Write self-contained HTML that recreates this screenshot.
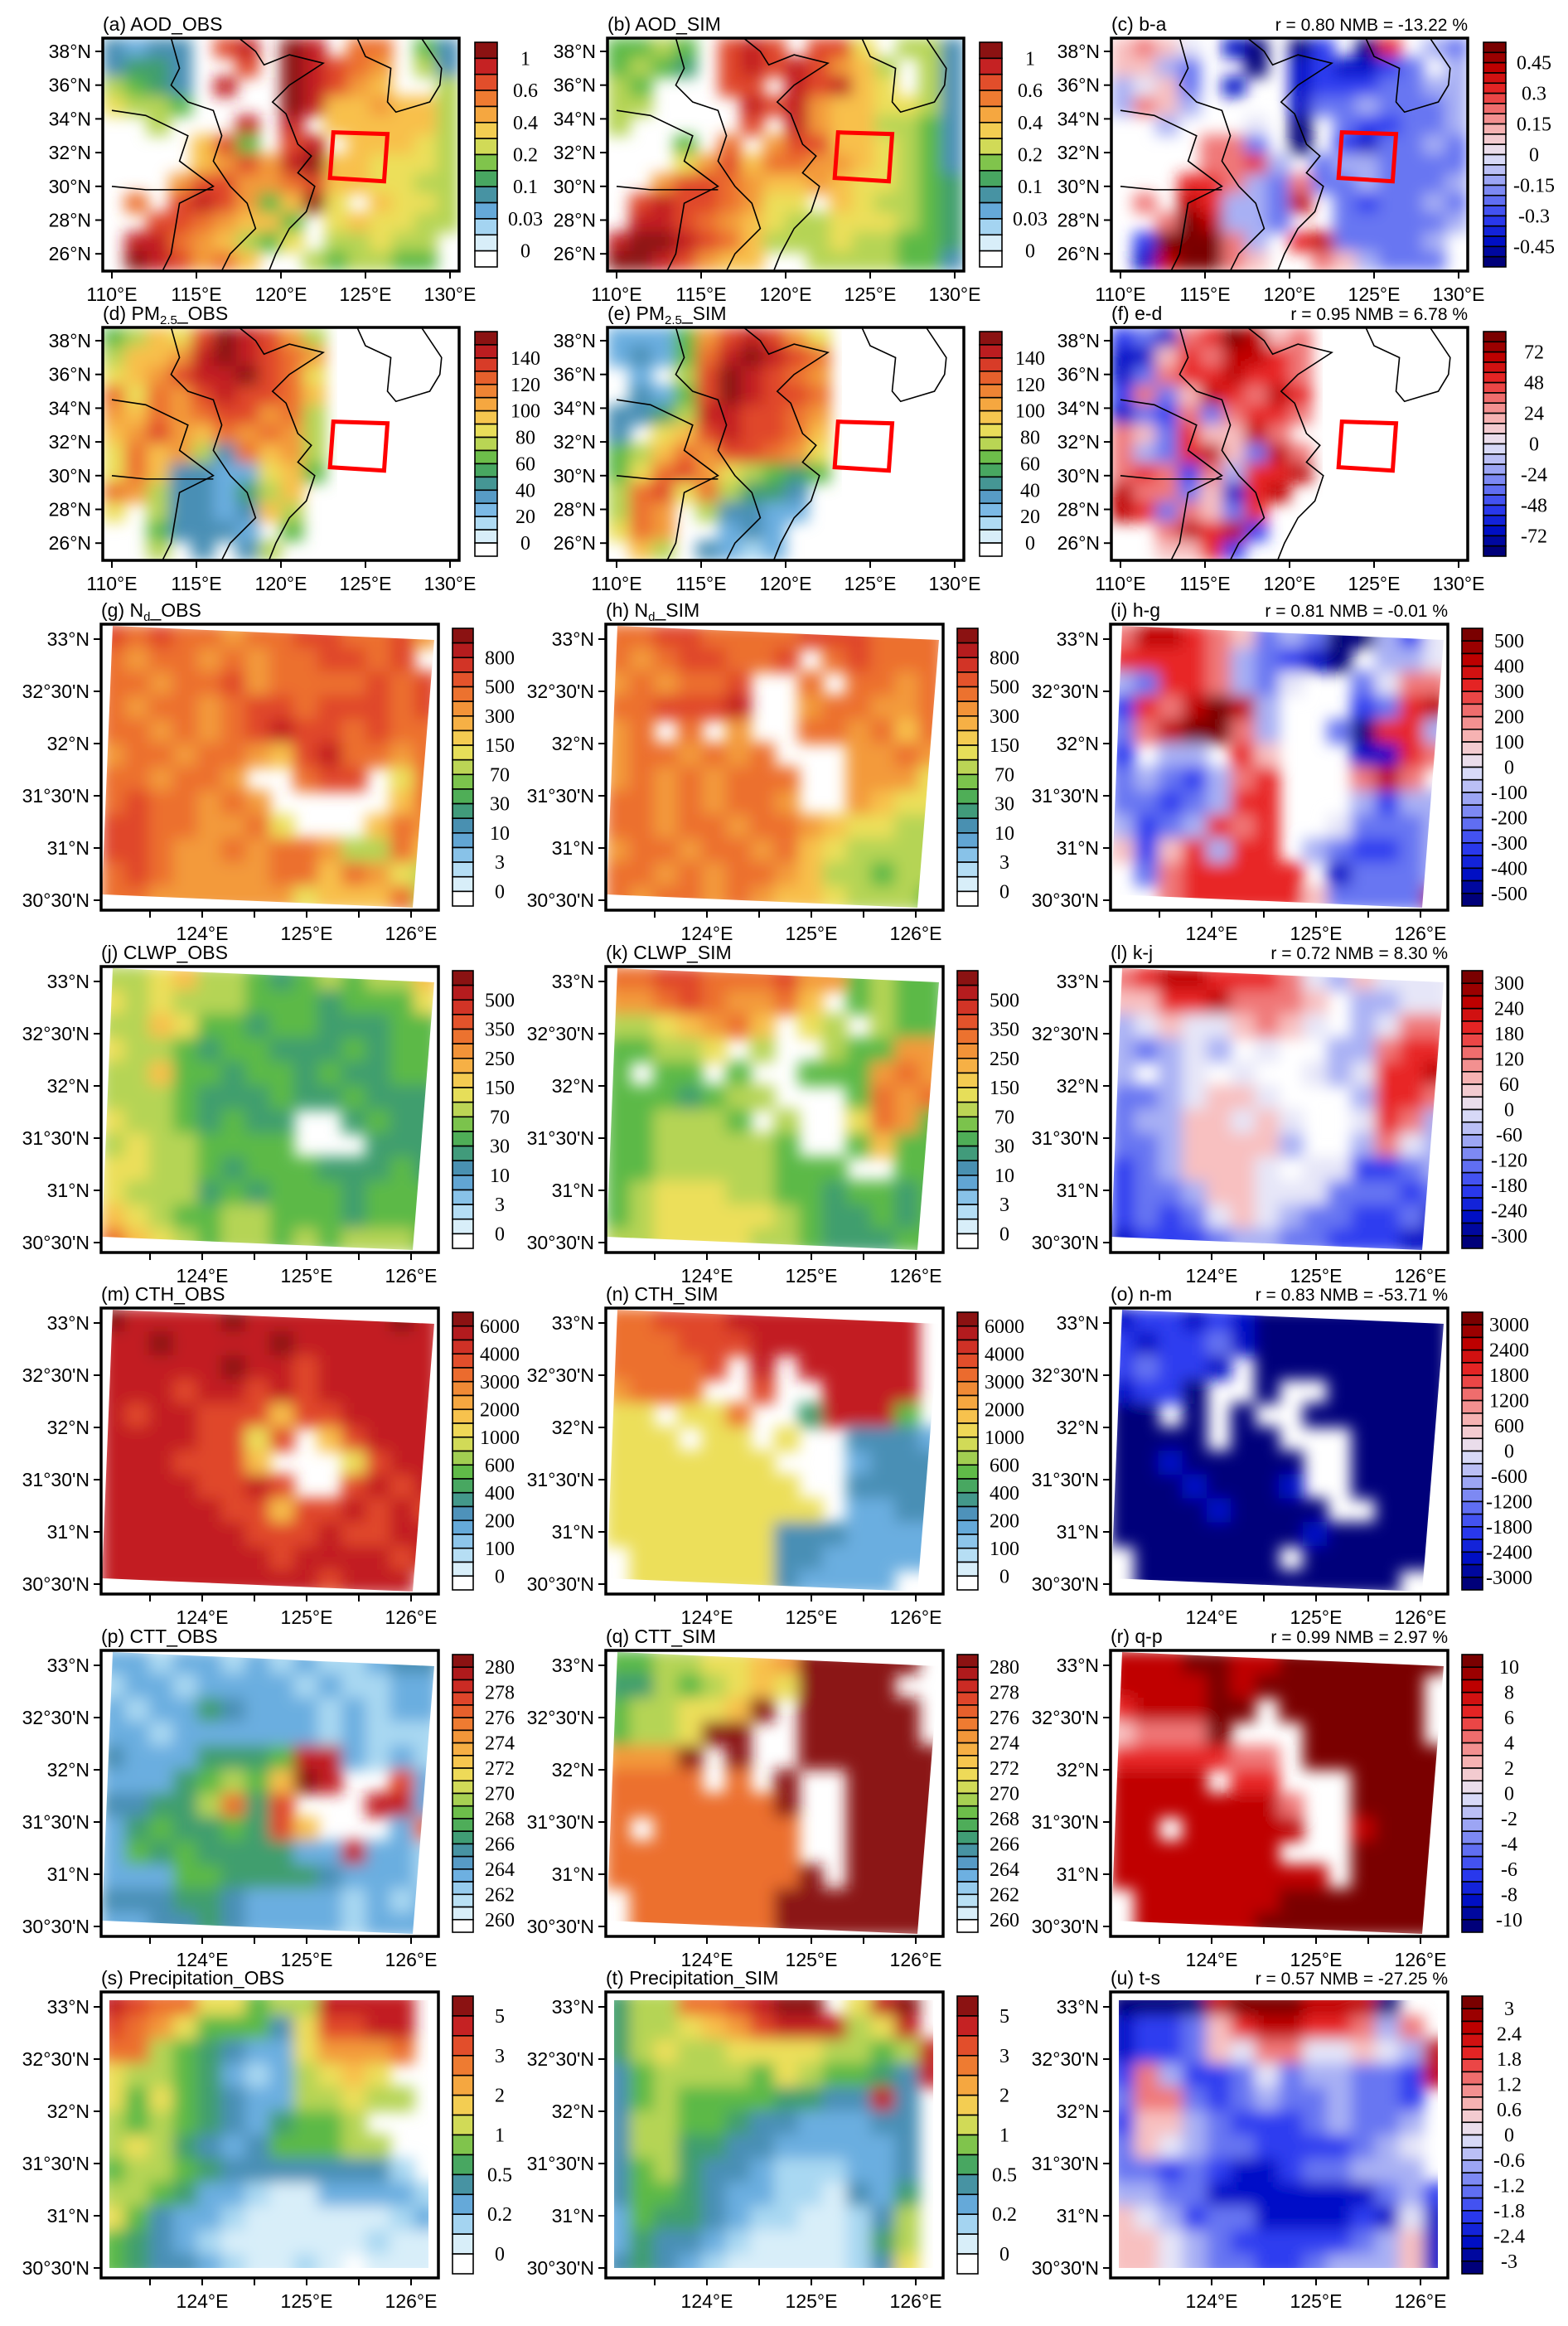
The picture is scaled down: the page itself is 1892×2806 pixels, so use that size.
<!DOCTYPE html>
<html><head><meta charset="utf-8">
<style>
html,body{margin:0;padding:0;background:#fff;}
svg{display:block;font-family:"Liberation Sans",sans-serif;}
.cbl{font-family:"Liberation Serif",serif;font-size:24px;}
</style></head>
<body>
<svg id="fig" xmlns="http://www.w3.org/2000/svg" width="1892" height="2806" viewBox="0 0 1892 2806">
<defs>
<filter id="sm" x="-5%" y="-5%" width="110%" height="110%"><feGaussianBlur stdDeviation="9"/></filter>
</defs>
</svg>
<script>
// ---------- data (level codes per grid cell) ----------
const fieldA=["3233.bc.dc.aa.53","3443..b.dcba9.63","6543.c..dcb98..6","7665....dc889886","..6...c.c.888886","....8b5.bc.88876","....89b9cd887776","...9bb99ab887766",".a.bcb958d7.8776","..bba9885.787766",".cca98657.66766.",".dcb9a8..656655."];
const fieldB=["5565.bcb.bb7.663","5654.bcbcb986.63","65...bb.cbc87.63","66....cbc9887763","6.....b.c9886653","...5.a.9bb887653","...79b8aa9987653","..9bba9889877654",".bcbba977.876654",".ccba98766777654","cddcba8666766554","ddcb988..6666553"];
const fieldC=["ghgf.ba.ac.ai.ed","gged..a.bcbbcd.e","efgd.b..bcccddee","ehge....bddeddde","..e...f.a.dccdde","....hhd.a.cbdded","....hhie.deedddd","...iihedhddeddde",".h.jieedj.dcdded","..hkjeed..ddddde",".ckkkhe.ijdddde.",".bjkkhg..hgeddd."];
const fieldD=["5687bdcb96","6889cdcba9","789bccdba7","a7a9bcbba8","98a9abb9a6","89b98a9a96","7a8963a896","7a83322785","a96332468.","7.6332386.","..53332.5.","..6.3.36.."];
const fieldE=["22259bcb97","2325acdcba",".2.6bdcba9",".325bdcbba","3346ccbba9","3.78bcbba8","568a9bba97","57ab976545","6ab7a6443.","6a9.63322.","7a9..232..",".86.3212.."];
const fieldF=["cdbhikjgh.","bbgihjjih.","bdhiijiih.","chdgjihji.","bdchdhiih.","hgdiggjh..","hedijgdjh.","hihcheiij.","jhhdgbij..","jidhgdi...","..hjijc...","..ggic...."];
const fieldG=["babaa9aabbaab9","a9aa9a9aabbab.","aa9aab9aaaabab","a9aa9abbabbbab","aa9a9abcbbabaa","9aa9aa98bcaa9a","aa9aa9..abb.7a","abaa9a9.....8a","bbaa99a7...8a9","bba99a9aa966a8","aba9999aa8a976","aa9999997888a6"];
const fieldH=["aabbaaaabbbaaa","a9abbaab.abaaa","9a9aab..a.aa9a","aabbbc..9aa99a","9a.a.9..aa9a8a","9aa9a9a...99a9","9a9a9aaa..9997","aa9a9aa9..9877","aa9aa9aa987766","9aa9aa9a876666","aa9a9aa9866566","a9aa9a98876665"];
const fieldI=["hjjihgdedaaecf","iiiihedcba.eef","ediihedf..dfhh","cihjkje...cdij","dhjkkhe..daiie","c.ee.ig...bbih","dedcehi...hjh.","ddcdeii...ecee","ecdeihi..fddde","gcgieii.edccde",".dhiiiii.bddde","..hiiiiigddddj"];
const fieldJ=["66786654565668","76766655545557","66875545544455","76654554445455","66855455454455","66654445445444","76654544..4544","67665555...444","77665455544454","76664545554555","87655665554555","a8765665656665"];
const fieldK=["aabbaaab995655","99aba99a8.5655","66789a8.76.655","55667.6..65599","5.55.5..5559a9","5554566...5a9a","556665.6..7a95","55666665..5855","5566666555..55","56777665545545","56777776544545","66777766544455"];
const fieldL=["hijjiiihfegfff","ggiijhhhg.eeff","efgffghgf.efhh","edefe.f..eehii","e.ef.f..fefiij","ddefggf...eiih","deeggfgf..fihe","ddegggge..ehfe","cdegggf.ffccde","cddeggfffdddcd","cdcdfgfeddccdb","bcccdeeddcccbb"];
const fieldM=["dccccdccccccdc","ccdccccdcccccc","cccccdccbccccc","cccbccbcbccccc","cbccbbb8bbcccc","ccccbb7b.8bccc","cccbbb8...7bcc","ccccbbcb..bcbc","cccccbb8bbcbcb","ccccccbbbcbbcc","cccccccbccccbc","cccccccccbccc."];
const fieldN=["aabbbcccccccc.","aaabbbccccccc.","aaaab.c.ccccc.","9aaa..b..cccc.","77.77a..4ccc5.","777.77.7..3332","7777777...2333","77777777..3333","777777777.2233","77777773332222",".7777773322222",".77777732222.."];
const fieldO=["bccbcbaaaaaaaa","cbccdbaaaaaaaa","cdccb.aaaaaaaa","bcca..a..aaaaa","aa.a.a..aaaaaa","aaaa.aa...aaaa","aabaaaaa..aaaa","aaabaaab..aaaa","aaaabaaaa..aaa","aaaaaaaabaaaaa",".aaaaaa.aaaaaa",".aaaaaaaaaaa.."];
const fieldP=["22122121211233","12212222121122","21224322212122","22122222212111","32224445cc2121","22245658dc..b2","33446a4b...cc2","2454454b8...2a","2545444422c221","22255444432221","33344322221212","22334322221222"];
const fieldQ=["55667789ddddd.","44656787dddd..","566778d.ddddd.","5667dd..ddddd.","999d.d..dddddd","aaaa.a.d..dddd","aaaaaaad..dddd","a.aaaaaa..dddd","aaaaaaaa..dddd","aaaaaaaad.dddd",".aaaaaaddddddd",".aaaaaaddddddd"];
const fieldR=["jjjkkjjkkkkkkk","jjjjkjkkkkkkk.","ijjjkk.kkkkkk.","ghhhk...kkkkk.","iiiiihh.kkkkkk","jjjj.ii...kkkk","jjjjjjjh..kkkk","jj.jjjjj..jkkk","jjjjjjj...kkkk","jjjjjjjjj.kkkk",".jjjjjjkkkkkkk",".jjjjjkkkkkkkk"];
const fieldS=["cbaa77566cccc.","ba9755537bbcc.","aa6543227999a.","766542126787..","7575432266766.","65654324556...","676432355566..","5665433333331.","66542210022221","75322100000012","54321000000100","5433210010.000"];
const fieldT=["466aabcdd.7cd.","466789bccc67c.","4676677776656c","3566665765543c","35655554433c3.","3665543322233.","3664433222223.","3564332111223.","3554322110324.","2544321100136.","2433210000146.","3432100000137."];
const fieldU=["aaaajkkkjjja..","bccdgijjiiheh.","bccdgfhhffgfej","checcdfdeeddcj","dhhdcdeddeddc.","cggedcccdedde.","dgfeddccccdef.","ddcdcbbcddeee.","eeddbbbbbbbdec","gfecddbbbbcbfb","ggfedcccccdegb","ggfeddccdeeegb"];

// colorbar tick labels
const lblAOD=["1","0.6","0.4","0.2","0.1","0.03","0"];
const lblAODd=["0.45","0.3","0.15","0","-0.15","-0.3","-0.45"];
const lblPM=["140","120","100","80","60","40","20","0"];
const lblPMd=["72","48","24","0","-24","-48","-72"];
const lblND=["800","500","300","150","70","30","10","3","0"];
const lblNDd=["500","400","300","200","100","0","-100","-200","-300","-400","-500"];
const lblCW=["500","350","250","150","70","30","10","3","0"];
const lblCWd=["300","240","180","120","60","0","-60","-120","-180","-240","-300"];
const lblCTH=["6000","4000","3000","2000","1000","600","400","200","100","0"];
const lblCTHd=["3000","2400","1800","1200","600","0","-600","-1200","-1800","-2400","-3000"];
const lblCTT=["280","278","276","274","272","270","268","266","264","262","260"];
const lblCTTd=["10","8","6","4","2","0","-2","-4","-6","-8","-10"];
const lblPR=["5","3","2","1","0.5","0.2","0"];
const lblPRd=["3","2.4","1.8","1.2","0.6","0","-0.6","-1.2","-1.8","-2.4","-3"];

// axis tick labels
const latBig=["38°N","36°N","34°N","32°N","30°N","28°N","26°N"];
const lonBig=["110°E","115°E","120°E","125°E","130°E"];
const latSmall=["33°N","32°30'N","32°N","31°30'N","31°N","30°30'N"];
const lonSmall=["","124°E","","125°E","","126°E"];

// map outlines (lon, lat)
const coastChina=[[117.5,38.8],[118.5,38],[119,37.2],[120.5,37.8],[122.5,37.3],[120.5,36],[119.5,35],[120.3,34.3],[121,32.5],[121.8,31.8],[121,30.8],[122,30],[121.5,28.5],[120.5,27.5],[119.7,26],[119.3,25]];
const coastKorea=[[124.5,38.8],[125,37.7],[126.5,37],[126.3,35],[126.8,34.4],[128.8,35],[129.4,36],[129.5,37],[128.5,38.5],[128.3,38.8]];
const border1=[[113.5,38.8],[114,37],[113.5,36],[114.5,35],[116,34.5],[116.5,33],[116,31.5],[117,30],[118,29],[118.5,27.5],[117,26],[116.5,25]];
const border2=[[110,34.5],[112,34.2],[114.5,33],[114,31.5],[116,30],[114,29],[113.5,26],[113,25]];
const border3=[[110,30],[112,29.8],[114,29.8],[116,29.8]];
const redBox=[[123.1,33.2],[126.3,33.1],[126.1,30.3],[122.9,30.5]];

// ---------- rendering ----------
const NS="http://www.w3.org/2000/svg";
const svg=document.getElementById('fig');
function mk(tag,attrs,parent){const e=document.createElementNS(NS,tag);for(const k in attrs)e.setAttribute(k,attrs[k]);(parent||svg).appendChild(e);return e;}
const seqCol=["#d8eef9","#a9d8f2","#6aaee0","#4a8fb5","#3f9e6e","#5bb947","#b5d454","#ecdf5a","#f8c04c","#f39a3a","#ec702e","#e0472a","#c21f22","#8b1212"];
const divCol=["#00007a","#0010c8","#2d3cf0","#6876f2","#a8b0f4","#e6e6f8","#f8c0c0","#f07878","#e82828","#c00000","#7a0000"];
const seqCodes="0123456789abcd", divCodes="abcdefghijk";
function cellColor(ch,kind){if(ch==='.'||ch===' ')return null;if(kind==='seq'){const i=seqCodes.indexOf(ch);return i<0?null:seqCol[i];}const i=divCodes.indexOf(ch);return i<0?null:divCol[i];}
function hex(c){return [1,3,5].map(i=>parseInt(c.substr(i,2),16));}
function lerpPal(pal,t){const p=t*(pal.length-1);const i=Math.min(Math.floor(p),pal.length-2);const f=p-i;const a=hex(pal[i]),b=hex(pal[i+1]);return 'rgb('+a.map((v,k)=>Math.round(v+(b[k]-v)*f)).join(',')+')';}

const bigL=[124,733,1341], bigT=[46,395], BW=430, BH=281;
const smL=[122,731,1340], smT=[753,1166,1578,1991,2403], SW=407, SH=345;

const panels=[
 {id:'a',t:'(a) AOD_OBS',big:1,c:0,r:0,kind:'seq',f:fieldA,lbl:lblAOD,n:14,first:1,step:2,box:1},
 {id:'b',t:'(b) AOD_SIM',big:1,c:1,r:0,kind:'seq',f:fieldB,lbl:lblAOD,n:14,first:1,step:2,box:1},
 {id:'c',t:'(c) b-a',st:'r = 0.80  NMB = -13.22 %',big:1,c:2,r:0,kind:'div',f:fieldC,lbl:lblAODd,n:22,first:2,step:3,box:1},
 {id:'d',t:'(d) PM',sub:'2.5',t2:'_OBS',big:1,c:0,r:1,kind:'seq',f:fieldD,lbl:lblPM,n:17,first:2,step:2,box:1},
 {id:'e',t:'(e) PM',sub:'2.5',t2:'_SIM',big:1,c:1,r:1,kind:'seq',f:fieldE,lbl:lblPM,n:17,first:2,step:2,box:1},
 {id:'f',t:'(f) e-d',st:'r = 0.95  NMB = 6.78 %',big:1,c:2,r:1,kind:'div',f:fieldF,lbl:lblPMd,n:22,first:2,step:3,box:1},
 {id:'g',t:'(g) N',sub:'d',t2:'_OBS',c:0,r:0,kind:'seq',f:fieldG,lbl:lblND,n:19,first:2,step:2,clip:'quad'},
 {id:'h',t:'(h) N',sub:'d',t2:'_SIM',c:1,r:0,kind:'seq',f:fieldH,lbl:lblND,n:19,first:2,step:2,clip:'quad'},
 {id:'i',t:'(i) h-g',st:'r = 0.81  NMB = -0.01 %',c:2,r:0,kind:'div',f:fieldI,lbl:lblNDd,n:22,first:1,step:2,clip:'quad'},
 {id:'j',t:'(j) CLWP_OBS',c:0,r:1,kind:'seq',f:fieldJ,lbl:lblCW,n:19,first:2,step:2,clip:'quad'},
 {id:'k',t:'(k) CLWP_SIM',c:1,r:1,kind:'seq',f:fieldK,lbl:lblCW,n:19,first:2,step:2,clip:'quad'},
 {id:'l',t:'(l) k-j',st:'r = 0.72  NMB = 8.30 %',c:2,r:1,kind:'div',f:fieldL,lbl:lblCWd,n:22,first:1,step:2,clip:'quad'},
 {id:'m',t:'(m) CTH_OBS',c:0,r:2,kind:'seq',f:fieldM,lbl:lblCTH,n:20,first:1,step:2,clip:'quad'},
 {id:'n',t:'(n) CTH_SIM',c:1,r:2,kind:'seq',f:fieldN,lbl:lblCTH,n:20,first:1,step:2,clip:'quad'},
 {id:'o',t:'(o) n-m',st:'r = 0.83  NMB = -53.71 %',c:2,r:2,kind:'div',f:fieldO,lbl:lblCTHd,n:22,first:1,step:2,clip:'quad'},
 {id:'p',t:'(p) CTT_OBS',c:0,r:3,kind:'seq',f:fieldP,lbl:lblCTT,n:22,first:1,step:2,clip:'quad'},
 {id:'q',t:'(q) CTT_SIM',c:1,r:3,kind:'seq',f:fieldQ,lbl:lblCTT,n:22,first:1,step:2,clip:'quad'},
 {id:'r',t:'(r) q-p',st:'r = 0.99  NMB = 2.97 %',c:2,r:3,kind:'div',f:fieldR,lbl:lblCTTd,n:22,first:1,step:2,clip:'quad'},
 {id:'s',t:'(s) Precipitation_OBS',c:0,r:4,kind:'seq',f:fieldS,lbl:lblPR,n:14,first:1,step:2,clip:'rect'},
 {id:'t',t:'(t) Precipitation_SIM',c:1,r:4,kind:'seq',f:fieldT,lbl:lblPR,n:14,first:1,step:2,clip:'rect'},
 {id:'u',t:'(u) t-s',st:'r = 0.57  NMB = -27.25 %',c:2,r:4,kind:'div',f:fieldU,lbl:lblPRd,n:22,first:1,step:2,clip:'rect'}
];

panels.forEach(P=>{
  const L=P.big?bigL[P.c]:smL[P.c], T=P.big?bigT[P.r]:smT[P.r], W=P.big?BW:SW, H=P.big?BH:SH;
  const g=mk('g',{});
  
  
  const cp=mk('clipPath',{id:'cp'+P.id},g);
  if(P.clip==='quad') mk('polygon',{points:`${L+14},${T+2} ${L+402},${T+19} ${L+376},${T+342} ${L+1},${T+326}`},cp);
  else if(P.clip==='rect') mk('rect',{x:L+10,y:T+10,width:W-22,height:H-22},cp);
  else mk('rect',{x:L,y:T,width:W,height:H},cp);
  const outer=mk('g',{'clip-path':`url(#cp${P.id})`},g);
  const field=mk('g',{filter:'url(#sm)'},outer);
  
  
  const cols=P.big?16:14, rows=P.f.length;
  const cw=W/cols, ch=H/rows;
  P.f.forEach((row,ri)=>{
    for(let ci=0;ci<cols;ci++){
      const col=cellColor(row[ci]||'.',P.kind);
      if(!col) continue;
      const rc=mk('rect',{x:L+ci*cw-0.5,y:T+ri*ch-0.5,width:cw+1,height:ch+1,fill:col},field);
      
      
    }
  });
  if(P.big){
    const px=lon=>L+11+(lon-110)*20.4, py=lat=>T+16+(38-lat)*20.35;
    [coastChina,coastKorea,border1,border2,border3].forEach((ln,k)=>{
      const pl=mk('polyline',{points:ln.map(p=>px(p[0])+','+py(p[1])).join(' '),fill:'none',stroke:'#000','stroke-width':1.6},outer);
      
      
    });
    const bx=mk('polygon',{points:redBox.map(p=>px(p[0])+','+py(p[1])).join(' '),fill:'none',stroke:'#ff0000','stroke-width':5},g);
    
    
    latBig.forEach((s,i)=>{const y=T+16+i*40.7;
      mk('line',{x1:L-9,x2:L,y1:y,y2:y,stroke:'#000','stroke-width':2},g);
      const tx=mk('text',{x:L-14,y:y+8,'text-anchor':'end','font-size':23},g);tx.textContent=s;
      
      });
    lonBig.forEach((s,i)=>{const x=L+11+i*102;
      mk('line',{x1:x,x2:x,y1:T+H,y2:T+H+9,stroke:'#000','stroke-width':2},g);
      const tx=mk('text',{x:x,y:T+H+36,'text-anchor':'middle','font-size':23},g);tx.textContent=s;
      
      });
  } else {
    latSmall.forEach((s,i)=>{const y=T+18+i*63;
      mk('line',{x1:L-9,x2:L,y1:y,y2:y,stroke:'#000','stroke-width':2},g);
      const tx=mk('text',{x:L-14,y:y+8,'text-anchor':'end','font-size':23},g);tx.textContent=s;
      
      });
    lonSmall.forEach((s,i)=>{const x=L+59+i*63;
      mk('line',{x1:x,x2:x,y1:T+H,y2:T+H+9,stroke:'#000','stroke-width':2},g);
      if(s){const tx=mk('text',{x:x,y:T+H+36,'text-anchor':'middle','font-size':23},g);tx.textContent=s;
      
      }});
  }
  const fr=mk('rect',{x:L,y:T,width:W,height:H,fill:'none',stroke:'#000','stroke-width':3.5},g);
  
  
  const tt=mk('text',{x:L,y:T-9,'font-size':23},g);
  
  
  tt.appendChild(document.createTextNode(P.t));
  if(P.sub){const sb=mk('tspan',{'font-size':15,dy:5},tt);sb.textContent=P.sub;const t2=mk('tspan',{dy:-5},tt);t2.textContent=P.t2;}
  if(P.st){const s=mk('text',{x:L+W,y:T-9,'text-anchor':'end','font-size':21},g);s.textContent=P.st;
    
    }
  const cbx=L+(P.big?449:424), cbw=P.big?27:25, cby=T+5, cbh=H-10, bh=cbh/P.n;
  const cb=mk('g',{},g);
  
  
  for(let k=0;k<P.n;k++){
    let col;
    if(P.kind==='seq'){col=(k===P.n-1)?'#ffffff':lerpPal(seqCol.slice().reverse(),k/(P.n-2));}
    else col=lerpPal(divCol.slice().reverse(),k/(P.n-1));
    mk('rect',{x:cbx,y:cby+k*bh,width:cbw,height:bh,fill:col,stroke:'#000','stroke-width':1.6},cb);
  }
  P.lbl.forEach((s,i)=>{const y=cby+(P.first+i*P.step)*bh;
    const tx=mk('text',{x:cbx+cbw+(P.big?34:32),y:y+8,'text-anchor':'middle',class:'cbl'},cb);tx.textContent=s;
    
    });
});
</script>
</body></html>
